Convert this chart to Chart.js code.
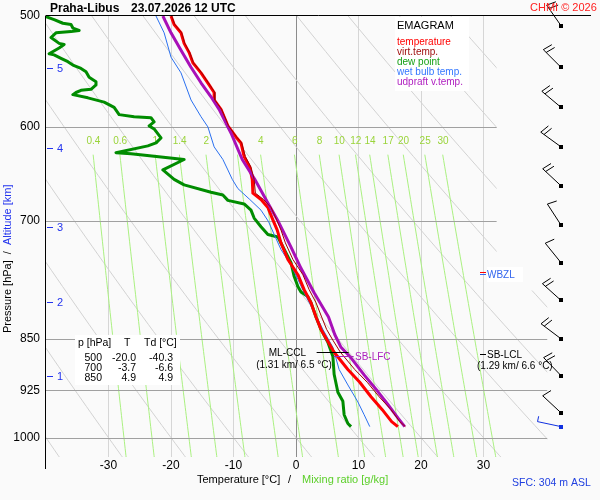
<!DOCTYPE html>
<html lang="cs">
<head>
<meta charset="UTF-8">
<title>Emagram Praha-Libus</title>
<script src="https://cdn.jsdelivr.net/npm/chart.js@4.4.1/dist/chart.umd.min.js"></script>
<style>
  body { margin: 0; background: #fafafa; }
  #emagram { display: block; }
</style>
</head>
<body>
<canvas id="emagram" width="600" height="500"></canvas>
<script>
// sounding Praha-Libus 23.07.2026 12 UTC
// temperature and virtual temperature share the same levels
var tempP = [500, 507, 514, 523, 531, 540, 549, 560, 567, 574, 583, 599, 610, 616, 630, 641, 654, 669, 676, 685, 699, 711, 726, 746, 765, 784, 801, 820, 837, 852, 869, 894, 913, 935, 955, 974, 982];
var tempT = [-20.0, -19.5, -18.4, -17.9, -17.1, -16.5, -15.2, -13.9, -13.1, -13.1, -12.0, -10.9, -9.6, -8.8, -8.3, -7.4, -7.0, -6.9, -5.6, -4.5, -3.7, -3.0, -2.4, -1.3, 0.3, 1.3, 2.4, 3.2, 4.0, 5.0, 6.1, 8.3, 10.2, 12.0, 13.8, 15.3, 16.3];
var virtT = [-19.9, -19.4, -18.3, -17.8, -17.0, -16.4, -15.1, -13.8, -13.0, -13.0, -11.9, -10.8, -9.5, -8.7, -8.1, -7.2, -6.7, -6.5, -5.2, -4.0, -3.1, -2.4, -1.7, -0.5, 1.1, 2.1, 3.2, 4.1, 4.9, 5.9, 7.1, 9.4, 11.4, 13.3, 15.2, 16.6, 17.5];

var dewP = [500, 503, 506, 507, 510, 512, 513, 514, 518, 523, 524, 527, 532, 533, 536, 539, 542, 545, 548, 553, 557, 560, 564, 565, 567, 569, 572, 576, 581, 588, 590, 591, 595, 599, 602, 611, 616, 619, 626, 627, 633, 644, 654, 660, 668, 671, 677, 681, 688, 697, 707, 716, 719, 738, 750, 767, 780, 787, 793, 801, 820, 837, 855, 875, 901, 928, 942, 963, 977, 982];
var dewT = [-40.3, -38.7, -37.3, -36.0, -35.7, -34.7, -36.0, -38.4, -39.2, -37.9, -37.1, -37.9, -39.5, -38.7, -37.6, -36.5, -35.7, -34.4, -33.6, -33.1, -32.0, -32.0, -32.8, -34.4, -35.2, -35.7, -33.3, -30.7, -29.1, -28.3, -25.9, -23.2, -22.7, -23.5, -22.7, -21.6, -22.4, -23.7, -28.8, -26.4, -17.9, -21.3, -19.5, -17.9, -13.6, -11.7, -10.9, -8.3, -7.2, -6.7, -5.6, -4.5, -2.9, -1.6, -0.8, -0.3, 0.3, 0.8, 1.9, 2.4, 3.2, 4.0, 5.1, 5.9, 6.1, 6.7, 7.5, 7.7, 8.3, 8.8];

var wetP = [500, 514, 535, 549, 574, 590, 600, 620, 633, 644, 654, 664, 676, 688, 701, 716, 734, 753, 771, 788, 810, 837, 862, 894, 917, 943, 963, 982];
var wetT = [-22.4, -21.1, -20.0, -18.4, -16.8, -15.2, -14.1, -13.1, -11.7, -10.9, -10.2, -9.3, -7.4, -5.6, -4.4, -3.5, -2.4, -0.8, 0.3, 1.3, 2.7, 4.3, 5.9, 6.9, 8.3, 9.9, 10.9, 11.8];

var parcelP = [500, 514, 529, 544, 558, 571, 583, 600, 606, 633, 654, 680, 700, 731, 757, 788, 820, 844, 862, 877, 902, 927, 947, 968, 982];
var parcelT = [-21.3, -20.0, -18.4, -16.8, -15.2, -13.6, -12.3, -10.9, -10.4, -8.6, -6.6, -4.5, -2.9, -0.8, 0.8, 2.9, 5.2, 6.2, 7.2, 8.8, 10.9, 13.1, 14.7, 16.3, 17.4];

// winds (kt)
var windP = [508, 544, 581, 620, 661, 705, 750, 798, 850, 903, 960];
var windDir = [325, 315, 310, 306, 313, 327, 321, 312, 307, 316, 313];
var windKt = [20, 20, 20, 20, 20, 10, 10, 20, 20, 20, 10];
var sfcP = 982, sfcDir = 282, sfcKt = 5;

// axes and reference lines
var tempTicks = [-30, -20, -10, 0, 10, 20, 30];
var pressTicks = [500, 600, 700, 850, 925, 1000];
var altKm = [1, 2, 3, 4, 5];
var altP = [904, 800, 707, 621, 545];
var mixRatios = [0.4, 0.6, 1, 1.4, 2, 3, 4, 6, 8, 10, 12, 14, 17, 20, 25, 30];
var mixLabelled = [0.4, 0.6, 1, 1.4, 2, 4, 6, 8, 10, 12, 14, 17, 20, 25, 30];
var dryThetas = [-40, -30, -20, -10, 0, 10, 20, 30, 40, 50, 60, 70, 80, 90, 100];

// table
var tabP = [500, 700, 850];
var tabT = [-20.0, -3.7, 4.9];
var tabTd = [-40.3, -6.6, 4.9];

// levels
var cclP = 869, cclKm = 1.31, cclT = 6.5;
var lfcP = 875;
var lclP = 872, lclKm = 1.29, lclT = 6.6;
var wbzlP = 763;

var FONT = '"Liberation Sans", Arial, sans-serif';
function font(px, bold) { return (bold ? 'bold ' : '') + px + 'px ' + FONT; }

function dryTemp(th, p) { return (th + 273.15) * Math.pow(p / 1000, 0.2857) - 273.15; }
function mixTemp(w, p) {
    var e = w * p / (622 + w);
    var l = Math.log(e / 6.112);
    return 243.5 * l / (17.67 - l);
}
function pts(P, T) { return P.map(function (p, i) { return { x: T[i], y: p }; }); }

function line(ctx, x1, y1, x2, y2) {
    ctx.beginPath(); ctx.moveTo(x1, y1); ctx.lineTo(x2, y2); ctx.stroke();
}

function drawBarb(ctx, x0, y0, dir, kt, color, len) {
    var r = dir * Math.PI / 180;
    var dx = Math.sin(r), dy = -Math.cos(r);
    var nx = -dy, ny = dx;
    var ex = x0 + len * dx, ey = y0 + len * dy;
    ctx.strokeStyle = color;
    ctx.fillStyle = color;
    ctx.lineWidth = 1;
    ctx.beginPath();
    ctx.moveTo(x0, y0);
    ctx.lineTo(ex, ey);
    var n = kt, pos = 0;
    while (n >= 10) {
        var bx = ex - pos * dx, by = ey - pos * dy;
        ctx.moveTo(bx, by);
        ctx.lineTo(bx + 10 * (0.95 * nx - 0.25 * dx), by + 10 * (0.95 * ny - 0.25 * dy));
        n -= 10; pos += 4;
    }
    if (n >= 5) {
        var hx = ex - pos * dx, hy = ey - pos * dy;
        ctx.moveTo(hx, hy);
        ctx.lineTo(hx + 5.5 * nx, hy + 5.5 * ny);
    }
    ctx.stroke();
    ctx.fillRect(Math.round(x0) - 2, Math.round(y0) - 2, 4, 4);
}

var emagramPlugin = {
    id: 'emagram',
    beforeDraw: function (chart) {
        var ctx = chart.ctx;
        ctx.save();
        ctx.fillStyle = '#fafafa';
        ctx.fillRect(0, 0, chart.width, chart.height);
        ctx.restore();
    },
    beforeDatasetsDraw: function (chart) {
        var ctx = chart.ctx, a = chart.chartArea, x = chart.scales.x, y = chart.scales.y;
        var split = y.getPixelForValue(785);
        var xr1 = x.getPixelForValue(32.1), xr2 = x.getPixelForValue(40.2);

        ctx.save();
        ctx.beginPath();
        ctx.moveTo(a.left, a.top);
        ctx.lineTo(xr1, a.top);
        ctx.lineTo(xr1, split);
        ctx.lineTo(xr2, split);
        ctx.lineTo(xr2, a.bottom);
        ctx.lineTo(a.left, a.bottom);
        ctx.closePath();
        ctx.clip();
        ctx.lineWidth = 1;

        // dry adiabats
        ctx.strokeStyle = '#d2d2d2';
        dryThetas.forEach(function (th) {
            ctx.beginPath();
            for (var p = 500; p <= 1040; p += 10) {
                var px = x.getPixelForValue(dryTemp(th, p)), py = y.getPixelForValue(p);
                if (p === 500) ctx.moveTo(px, py); else ctx.lineTo(px, py);
            }
            ctx.stroke();
        });

        // saturation mixing ratio lines
        ctx.strokeStyle = '#aaf080';
        mixRatios.forEach(function (w) {
            ctx.beginPath();
            for (var p = 628; p <= 1040; p += 6) {
                var px = x.getPixelForValue(mixTemp(w, p)), py = y.getPixelForValue(p);
                if (p === 628) ctx.moveTo(px, py); else ctx.lineTo(px, py);
            }
            ctx.stroke();
        });

        // isobars
        ctx.strokeStyle = '#a0a0a0';
        pressTicks.slice(1).forEach(function (p) {
            var py = Math.round(y.getPixelForValue(p)) + 0.5;
            line(ctx, a.left, py, a.right, py);
        });
        ctx.restore();

        ctx.save();
        // mixing ratio labels
        ctx.font = font(10);
        ctx.fillStyle = '#9ad43a';
        ctx.textAlign = 'center';
        ctx.textBaseline = 'middle';
        mixLabelled.forEach(function (w) {
            ctx.fillText(String(w), x.getPixelForValue(mixTemp(w, 630)), y.getPixelForValue(614));
        });

        // white boxes
        ctx.fillStyle = '#ffffff';
        ctx.fillRect(395, 17, 74, 74);
        ctx.fillRect(75, 335, 105, 50);
        var yw = y.getPixelForValue(wbzlP);
        ctx.fillRect(487, Math.round(yw) - 6, 36, 15);
        ctx.restore();
    },
    afterDatasetsDraw: function (chart) {
        var ctx = chart.ctx, a = chart.chartArea, x = chart.scales.x, y = chart.scales.y;
        ctx.save();

        // frame: left axis and top border
        ctx.strokeStyle = '#000000';
        ctx.lineWidth = 1;
        line(ctx, 45.5, a.top, 45.5, 469);
        line(ctx, 45.5, 15.5, a.right - 1, 15.5);

        // altitude marks
        ctx.strokeStyle = '#2233ee';
        ctx.fillStyle = '#2233ee';
        ctx.font = font(11);
        ctx.textAlign = 'left';
        ctx.textBaseline = 'middle';
        altKm.forEach(function (km, i) {
            var py = Math.round(y.getPixelForValue(altP[i])) + 0.5;
            line(ctx, 47, py, 53, py);
            ctx.fillText(String(km), 57, py + 0.5);
        });

        // legend
        ctx.fillStyle = '#000000';
        ctx.font = font(11);
        ctx.fillText('EMAGRAM', 397, 26);
        ctx.font = font(10);
        var legText = ['temperature', 'virt.temp.', 'dew point', 'wet bulb temp.', 'udpraft v.temp.'];
        var legCol = ['#ff0000', '#a01010', '#16a016', '#3377ff', '#b020c0'];
        legText.forEach(function (t, i) {
            ctx.fillStyle = legCol[i];
            ctx.fillText(t, 397, 42 + i * 10);
        });

        // table
        ctx.fillStyle = '#000000';
        ctx.font = font(10.5);
        ctx.textAlign = 'left';
        ctx.fillText('p [hPa]', 78, 343);
        ctx.fillText('T', 124, 343);
        ctx.fillText('Td [°C]', 144, 343);
        ctx.textAlign = 'right';
        tabP.forEach(function (p, i) {
            var ty = 358 + i * 10;
            ctx.fillText(String(p), 102, ty);
            ctx.fillText(tabT[i].toFixed(1), 136, ty);
            ctx.fillText(tabTd[i].toFixed(1), 173, ty);
        });

        // CCL / LFC / LCL
        ctx.font = font(10);
        var yc = y.getPixelForValue(cclP);
        var xc = x.getPixelForValue(cclT);
        ctx.strokeStyle = '#000000';
        line(ctx, xc - 20, Math.round(yc) + 0.5, xc + 12, Math.round(yc) + 0.5);
        ctx.fillStyle = '#000000';
        ctx.textAlign = 'right';
        ctx.fillText('ML-CCL', 306, yc + 1);
        ctx.textAlign = 'center';
        ctx.fillText('(' + cclKm.toFixed(2) + ' km/ ' + cclT.toFixed(1) + ' °C)', 294, yc + 13);

        var yf = Math.round(y.getPixelForValue(lfcP)) + 0.5;
        ctx.strokeStyle = '#aa22bb';
        line(ctx, xc - 3, yf, xc + 17, yf);
        ctx.fillStyle = '#aa22bb';
        ctx.textAlign = 'left';
        ctx.fillText('SB-LFC', 355, yf + 0.5);

        var yl = Math.round(y.getPixelForValue(lclP)) + 0.5;
        ctx.strokeStyle = '#000000';
        line(ctx, 480, yl, 486, yl);
        ctx.fillStyle = '#000000';
        ctx.fillText('SB-LCL', 487, yl + 0.5);
        ctx.fillText('(' + lclKm.toFixed(2) + ' km/ ' + lclT.toFixed(1) + ' °C)', 477, yl + 11.5);

        // wet bulb zero level
        var yw = Math.round(y.getPixelForValue(wbzlP));
        ctx.strokeStyle = '#ff0000';
        line(ctx, 480, yw - 0.5, 486, yw - 0.5);
        ctx.strokeStyle = '#3366ee';
        line(ctx, 480, yw + 1.5, 486, yw + 1.5);
        ctx.fillStyle = '#3366ee';
        ctx.fillText('WBZL', 487, yw + 2);

        // wind barbs
        var bx = x.getPixelForValue(42.4);
        windP.forEach(function (p, i) {
            drawBarb(ctx, bx, y.getPixelForValue(p), windDir[i], windKt[i], '#000000', 25);
        });
        drawBarb(ctx, bx, y.getPixelForValue(sfcP), sfcDir, sfcKt, '#1030e0', 24);
        ctx.restore();
    },
    afterDraw: function (chart) {
        var ctx = chart.ctx;
        ctx.save();
        ctx.textBaseline = 'alphabetic';
        ctx.textAlign = 'left';

        // title
        ctx.fillStyle = '#000000';
        ctx.font = font(12, true);
        ctx.fillText('Praha-Libus', 50, 12);
        ctx.fillText('23.07.2026 12 UTC', 131, 12);
        ctx.fillStyle = '#ff2020';
        ctx.font = font(11);
        ctx.fillText('CHMI © 2026', 530, 11);

        // x axis title
        ctx.font = font(11);
        ctx.fillStyle = '#000000';
        ctx.fillText('Temperature [°C]', 197, 483);
        ctx.fillText('/', 288, 483);
        ctx.fillStyle = '#5ccf2a';
        ctx.fillText('Mixing ratio [g/kg]', 302, 483);

        ctx.fillStyle = '#2040e0';
        ctx.font = font(10.5);
        ctx.fillText('SFC: 304 m ASL', 512, 486);

        // y axis title
        ctx.translate(7.5, 333);
        ctx.rotate(-Math.PI / 2);
        ctx.font = font(11);
        ctx.textBaseline = 'middle';
        ctx.fillStyle = '#000000';
        var t1 = 'Pressure [hPa]  /  ';
        ctx.fillText(t1, 0, 0);
        ctx.fillStyle = '#2233ee';
        ctx.fillText('Altitude [km]', ctx.measureText(t1).width, 0);
        ctx.restore();
    }
};

new Chart(document.getElementById('emagram'), {
    type: 'scatter',
    data: {
        datasets: [
            { label: 'virt.temp.', data: pts(tempP, virtT), borderColor: '#a00000', borderWidth: 1, order: 0 },
            { label: 'udpraft v.temp.', data: pts(parcelP, parcelT), borderColor: '#a810b8', borderWidth: 3, order: 1 },
            { label: 'temperature', data: pts(tempP, tempT), borderColor: '#ff0000', borderWidth: 3, order: 2 },
            { label: 'wet bulb temp.', data: pts(wetP, wetT), borderColor: '#2a70f0', borderWidth: 1, order: 3 },
            { label: 'dew point', data: pts(dewP, dewT), borderColor: '#008c00', borderWidth: 3, order: 4 }
        ]
    },
    options: {
        responsive: false,
        animation: false,
        devicePixelRatio: 1,
        showLine: true,
        elements: {
            point: { radius: 0, hoverRadius: 0 },
            line: { tension: 0, fill: false, borderJoinStyle: 'round' }
        },
        layout: { padding: { top: 16, right: 8, left: 0, bottom: 0 } },
        plugins: { legend: { display: false }, tooltip: { enabled: false } },
        scales: {
            x: {
                type: 'linear',
                min: -40,
                max: 47.36,
                afterBuildTicks: function (s) { s.ticks = tempTicks.map(function (v) { return { value: v }; }); },
                afterFit: function (s) { s.height = 43; },
                ticks: { autoSkip: false, maxRotation: 0, padding: 1, color: '#000000', font: { family: FONT, size: 12 } },
                grid: {
                    drawTicks: false,
                    lineWidth: 1,
                    color: function (c) { return c.tick && c.tick.value === 0 ? '#8c8c8c' : '#d6d6d6'; }
                },
                border: { display: false }
            },
            y: {
                type: 'logarithmic',
                min: 500,
                max: 1032.3,
                reverse: true,
                afterBuildTicks: function (s) { s.ticks = pressTicks.map(function (v) { return { value: v }; }); },
                afterFit: function (s) { s.width = 46; },
                ticks: {
                    autoSkip: false,
                    padding: 6,
                    color: '#000000',
                    font: { family: FONT, size: 12 },
                    callback: function (v) { return String(v); }
                },
                grid: { display: false, drawTicks: false },
                border: { display: false }
            }
        }
    },
    plugins: [emagramPlugin]
});
</script>
</body>
</html>
